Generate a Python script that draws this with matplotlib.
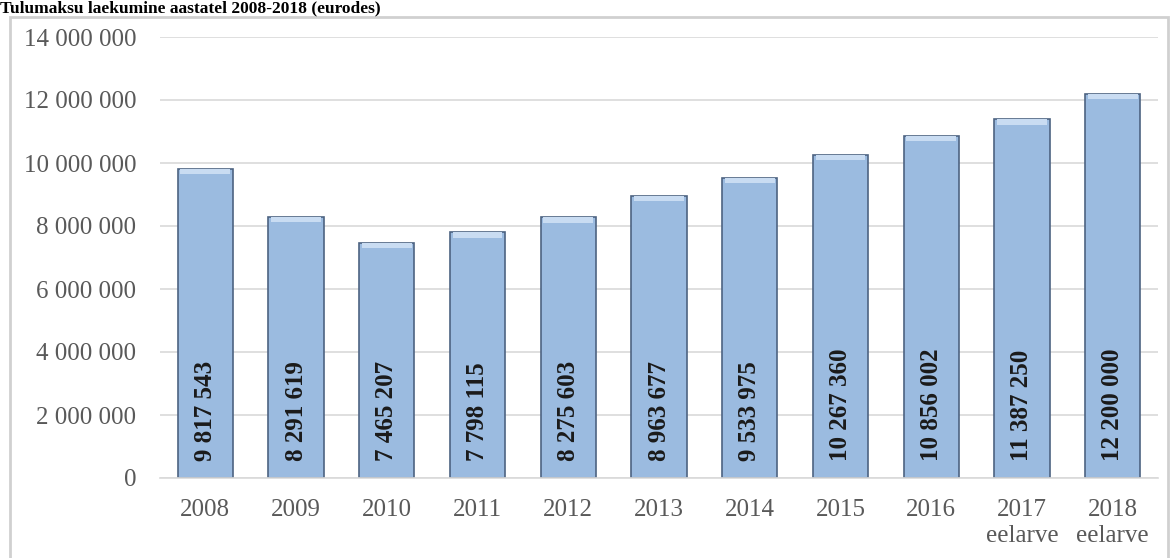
import numpy as np
import matplotlib.pyplot as plt
from matplotlib.patches import Rectangle
from matplotlib.ticker import FuncFormatter

# Data
years = ['2008', '2009', '2010', '2011', '2012', '2013', '2014', '2015', '2016',
         '2017\neelarve', '2018\neelarve']
values = [9817543, 8291619, 7465207, 7798115, 8275603, 8963677, 9533975,
          10267360, 10856002, 11387250, 12200000]
title = 'Tulumaksu laekumine aastatel 2008-2018 (eurodes)'

plt.rcParams['font.family'] = ['Liberation Serif', 'DejaVu Serif']

fig = plt.figure(figsize=(11.7, 5.58), dpi=100)
ax = fig.add_axes([160 / 1170, 1 - 478 / 558, 998 / 1170, 441 / 558])

# outer chart frame
fig.patches.append(Rectangle((10 / 1170, -0.05), 1158 / 1170, 1.05 - 17 / 558,
                             transform=fig.transFigure, fill=False,
                             edgecolor='#d0d0d0', linewidth=2, zorder=0))

x = np.arange(len(values))
vals = np.array(values)

ax.bar(x, vals, width=0.61, color='#9bbbe0', edgecolor='#4d6382',
       linewidth=1.2, zorder=2)
# bevel highlight at the top of each bar
band = 0.012 * 14000000
ax.bar(x, band, bottom=vals - band, width=0.55, color='#c9dcf2',
       linewidth=0, zorder=3)

for xi, v in zip(x, values):
    ax.annotate(f'{v:,}'.replace(',', ' '), xy=(xi, 0), xytext=(0, 12),
                textcoords='offset points', rotation=90, ha='center',
                va='bottom', fontsize=18, fontweight='bold', color='#1a1a1a',
                zorder=4)

ax.set_xlim(-0.5, len(values) - 0.5)
ax.set_ylim(0, 14000000)
ax.set_yticks(np.arange(0, 14000001, 2000000))
ax.yaxis.set_major_formatter(FuncFormatter(lambda v, p: f'{int(v):,}'.replace(',', ' ')))
ax.set_xticks(x)
ax.set_xticklabels(years, linespacing=1.25)
ax.tick_params(axis='both', length=0, labelsize=18, colors='#595959')
ax.tick_params(axis='y', pad=17)
ax.tick_params(axis='x', pad=15)
ax.grid(axis='y', color='#d9d9d9', linewidth=1.2, zorder=0)
ax.set_axisbelow(True)
for s in ['top', 'right', 'left']:
    ax.spines[s].set_visible(False)
ax.spines['bottom'].set_color('#d9d9d9')
ax.spines['bottom'].set_linewidth(1.2)

fig.text(0.0, 1 - 12 / 558, title, fontsize=12.5, fontweight='bold',
         va='baseline', ha='left', color='black')

fig.savefig('out.png', dpi=100)
